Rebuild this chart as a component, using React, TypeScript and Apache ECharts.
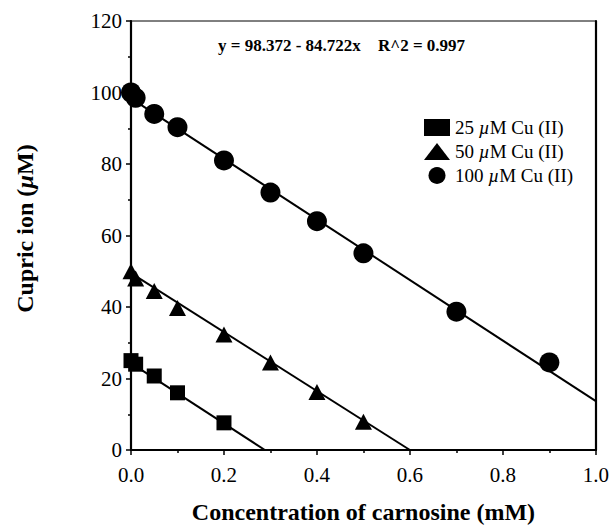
import React, { useEffect, useRef } from "react";
import * as echarts from "echarts";

// carnosine concentration (mM) and remaining cupric ion (µM)
const x25 = [0, 0.01, 0.05, 0.1, 0.2];
const y25 = [25, 24, 20.7, 16, 7.6];
const x50 = [0, 0.01, 0.05, 0.1, 0.2, 0.3, 0.4, 0.5];
const y50 = [50, 48, 44.5, 39.7, 32.3, 24.5, 16.2, 7.9];
const x100 = [0, 0.01, 0.05, 0.1, 0.2, 0.3, 0.4, 0.5, 0.7, 0.9];
const y100 = [100, 98.5, 94, 90.3, 81, 72, 64, 55, 38.7, 24.5];

// fitted lines (endpoints in data units)
const fit25 = [[0, 24.3], [0.288, 0]];
const fit50 = [[0, 49.5], [0.6, 0]];
const fitIntercept = 98.372;
const fitSlope = -84.722;
const fitR2 = 0.997;
const fit100 = [[0, fitIntercept], [1.0, fitIntercept + fitSlope * 1.0]];

const seriesNames = ["25 µM Cu (II)", "50 µM Cu (II)", "100 µM Cu (II)"];
const xTicks = { min: 0, max: 1, interval: 0.2 };
const yTicks = { min: 0, max: 120, interval: 20 };

const FONT = "Liberation Serif";

const zip = (xs: number[], ys: number[]) => xs.map((x, i) => [x, ys[i]]);

export default function App() {
  const ref = useRef<HTMLDivElement>(null);
  useEffect(() => {
    document.body.style.margin = "0";
    if (!ref.current) return;
    const chart = echarts.init(ref.current, null, { renderer: "svg" });
    const lineStyle = { color: "#000", width: 2 };
    const fitSeries = (data: number[][]) => ({
      type: "line",
      data,
      showSymbol: false,
      symbol: "none",
      lineStyle,
      silent: true,
      z: 1,
    });
    const axisLineStyle = { color: "#000", width: 2.2 };
    const tickStyle = { color: "#000", width: 1.5 };
    chart.setOption({
      animation: false,
      backgroundColor: "#fff",
      grid: {
        left: 131,
        right: 15,
        top: 21,
        bottom: 80,
        show: true,
        borderColor: "#000",
        borderWidth: 1,
      },
      legend: {
        data: seriesNames,
        orient: "vertical",
        left: 419,
        top: 113,
        itemWidth: 26,
        itemHeight: 17,
        itemGap: 5,
        selectedMode: false,
        formatter: (name: string) => {
          const parts = name.split("µ");
          return `{n|${parts[0]}}{i|µ}{n|${parts[1]}}`;
        },
        textStyle: {
          color: "#000",
          fontFamily: FONT,
          fontSize: 19,
          rich: {
            n: { fontFamily: FONT, fontSize: 19, color: "#000" },
            i: { fontFamily: FONT, fontSize: 19, fontStyle: "italic", color: "#000" },
          },
        },
      },
      xAxis: [
        {
          type: "value",
          min: xTicks.min,
          max: xTicks.max,
          interval: xTicks.interval,
          name: "Concentration of carnosine (mM)",
          nameLocation: "middle",
          nameGap: 50,
          nameTextStyle: { fontFamily: FONT, fontSize: 24, fontWeight: "bold", color: "#000" },
          axisLine: { show: true, lineStyle: axisLineStyle },
          axisTick: { show: true, inside: false, length: 5, lineStyle: tickStyle },
          minorTick: { show: true, splitNumber: 2, length: 3, lineStyle: tickStyle },
          splitLine: { show: false },
          axisLabel: {
            color: "#000",
            fontFamily: FONT,
            fontSize: 21,
            margin: 14,
            formatter: (v: number) => v.toFixed(1),
          },
        },
      ],
      yAxis: [
        {
          type: "value",
          min: yTicks.min,
          max: yTicks.max,
          interval: yTicks.interval,
          name: "{n|Cupric ion (}{i|µ}{n|M)}",
          nameLocation: "middle",
          nameGap: 94,
          nameRotate: 90,
          nameTextStyle: {
            color: "#000",
            padding: [0, 0, 0, 14],
            rich: {
              n: { fontFamily: FONT, fontSize: 24, fontWeight: "bold", color: "#000" },
              i: { fontFamily: FONT, fontSize: 24, fontWeight: "bold", fontStyle: "italic", color: "#000" },
            },
          },
          axisLine: { show: true, lineStyle: axisLineStyle },
          axisTick: { show: true, inside: false, length: 5, lineStyle: tickStyle },
          minorTick: { show: true, splitNumber: 2, length: 3, lineStyle: tickStyle },
          splitLine: { show: false },
          axisLabel: { color: "#000", fontFamily: FONT, fontSize: 21, margin: 9 },
        },
        {
          type: "value",
          position: "right",
          min: yTicks.min,
          max: yTicks.max,
          interval: yTicks.interval,
          axisLine: { show: true, lineStyle: axisLineStyle },
          axisTick: { show: false },
          axisLabel: { show: false },
          splitLine: { show: false },
        },
      ],
      graphic: [
        {
          type: "text",
          left: 218,
          top: 37,
          style: {
            text: `y = ${fitIntercept.toFixed(3)} - ${Math.abs(fitSlope).toFixed(3)}x`,
            fontFamily: FONT,
            fontSize: 17,
            fontWeight: "bold",
            fill: "#000",
          },
        },
        {
          type: "text",
          left: 378,
          top: 37,
          style: {
            text: `R^2 = ${fitR2.toFixed(3)}`,
            fontFamily: FONT,
            fontSize: 17,
            fontWeight: "bold",
            fill: "#000",
          },
        },
      ],
      series: [
        fitSeries(fit25),
        fitSeries(fit50),
        fitSeries(fit100),
        {
          name: seriesNames[0],
          type: "scatter",
          symbol: "rect",
          symbolSize: 15,
          data: zip(x25, y25),
          itemStyle: { color: "#000", opacity: 1 },
          z: 3,
        },
        {
          name: seriesNames[1],
          type: "scatter",
          symbol: "triangle",
          symbolSize: [17, 16],
          data: zip(x50, y50),
          itemStyle: { color: "#000", opacity: 1 },
          z: 3,
        },
        {
          name: seriesNames[2],
          type: "scatter",
          symbol: "circle",
          symbolSize: 20,
          data: zip(x100, y100),
          itemStyle: { color: "#000", opacity: 1 },
          z: 3,
        },
      ],
    });
    return () => chart.dispose();
  }, []);
  return <div ref={ref} style={{ width: 612, height: 530 }} />;
}
